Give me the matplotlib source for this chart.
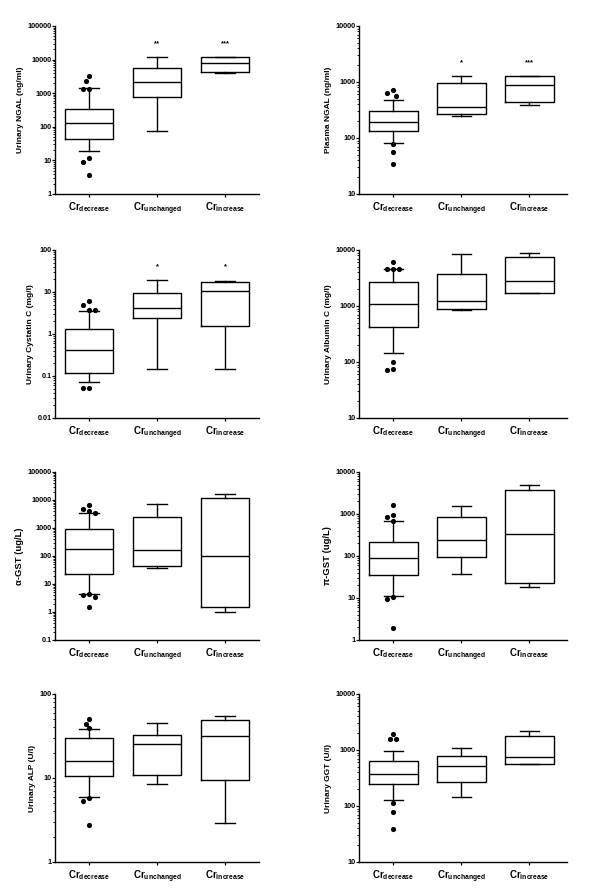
import matplotlib
matplotlib.use('Agg')
import matplotlib.pyplot as plt
import numpy as np
from matplotlib.ticker import LogLocator, NullFormatter, FuncFormatter

plt.rcParams['font.family'] = ['Liberation Sans', 'DejaVu Sans']
plt.rcParams['font.weight'] = 'bold'
plt.rcParams['mathtext.fontset'] = 'custom'
plt.rcParams['mathtext.bf'] = 'Liberation Sans:bold'
plt.rcParams['mathtext.rm'] = 'Liberation Sans:bold'

# ---------------- data ----------------
categories = [r'$\mathbf{Cr}_{\mathbf{decrease}}$',
              r'$\mathbf{Cr}_{\mathbf{unchanged}}$',
              r'$\mathbf{Cr}_{\mathbf{increase}}$']

# Urinary NGAL
ungal_lo = [19.4, 76, 4100]
ungal_q1 = [44, 796, 4300]
ungal_med = [126, 2170, 7780]
ungal_q3 = [343, 5785, 11700]
ungal_hi = [1408, 11700, 12300]
ungal_out = [3270, 2320, 1376, 1350, 12, 9.1, 3.6]
ungal_sig = ['', '**', '***']

# Plasma NGAL
pngal_lo = [83, 244, 388]
pngal_q1 = [135, 265, 433]
pngal_med = [190, 362, 880]
pngal_q3 = [303, 942, 1254]
pngal_hi = [470, 1271, 1290]
pngal_out = [706, 634, 569, 77, 57, 35]
pngal_sig = ['', '*', '***']

# Urinary Cystatin C
cys_lo = [0.071, 0.143, 0.143]
cys_q1 = [0.121, 2.36, 1.58]
cys_med = [0.42, 4.14, 10.5]
cys_q3 = [1.34, 9.55, 17.1]
cys_hi = [3.57, 19.1, 18.1]
cys_out = [5.95, 4.78, 3.78, 3.7, 0.051, 0.051]
cys_sig = ['', '*', '*']

# Urinary Albumin C
alb_lo = [143, 844, 1700]
alb_q1 = [430, 891, 1722]
alb_med = [1064, 1205, 2750]
alb_q3 = [2710, 3665, 7480]
alb_hi = [4510, 8360, 8700]
alb_out = [6180, 4570, 4510, 4500, 98, 75, 72]
alb_sig = ['', '', '']

# alpha-GST
agst_lo = [4.5, 36, 1.03]
agst_q1 = [22.6, 44.8, 1.47]
agst_med = [176, 162, 99]
agst_q3 = [957, 2500, 12200]
agst_hi = [3370, 7450, 16000]
agst_out = [6860, 4940, 3970, 3370, 4.5, 4.03, 3.33, 1.55]
agst_sig = ['', '', '']

# pi-GST
pgst_lo = [11.3, 37.7, 18.2]
pgst_q1 = [35.6, 94, 23]
pgst_med = [90, 238, 343]
pgst_q3 = [217, 837, 3730]
pgst_hi = [698, 1585, 4910]
pgst_out = [1614, 950, 837, 698, 10.5, 9.4, 1.89]
pgst_sig = ['', '', '']

# Urinary ALP
alp_lo = [6.0, 8.45, 2.9]
alp_q1 = [10.5, 11.0, 9.34]
alp_med = [16.1, 25.6, 31.8]
alp_q3 = [30.2, 32.1, 49.3]
alp_hi = [38.2, 45, 55]
alp_out = [51, 44.5, 39.2, 5.8, 5.37, 2.72]
alp_sig = ['', '', '']

# Urinary GGT
ggt_lo = [130, 144, 551]
ggt_q1 = [245, 273, 574]
ggt_med = [375, 521, 735]
ggt_q3 = [641, 776, 1795]
ggt_hi = [968, 1064, 2146]
ggt_out = [1950, 1585, 1540, 111, 79, 38.4]
ggt_sig = ['', '', '']

panels = [
    ('Urinary NGAL (ng/ml)', (1, 1e5), ungal_lo, ungal_q1, ungal_med, ungal_q3, ungal_hi, ungal_out, ungal_sig),
    ('Plasma NGAL (ng/ml)', (10, 1e4), pngal_lo, pngal_q1, pngal_med, pngal_q3, pngal_hi, pngal_out, pngal_sig),
    ('Urinary Cystatin C (mg/l)', (0.01, 100), cys_lo, cys_q1, cys_med, cys_q3, cys_hi, cys_out, cys_sig),
    ('Urinary Albumin C (mg/l)', (10, 1e4), alb_lo, alb_q1, alb_med, alb_q3, alb_hi, alb_out, alb_sig),
    ('\u03b1-GST (ug/L)', (0.1, 1e5), agst_lo, agst_q1, agst_med, agst_q3, agst_hi, agst_out, agst_sig),
    ('\u03c0-GST (ug/L)', (1, 1e4), pgst_lo, pgst_q1, pgst_med, pgst_q3, pgst_hi, pgst_out, pgst_sig),
    ('Urinary ALP (U/l)', (1, 100), alp_lo, alp_q1, alp_med, alp_q3, alp_hi, alp_out, alp_sig),
    ('Urinary GGT (U/l)', (10, 1e4), ggt_lo, ggt_q1, ggt_med, ggt_q3, ggt_hi, ggt_out, ggt_sig),
]

# ---------------- layout ----------------
W, H = 600, 893
fig = plt.figure(figsize=(W / 100, H / 100), dpi=100)
col_left = [55, 359]
col_width = [204, 208]
col_xmax = [3.5, 3.55]
row_bottom = [194, 418, 640, 862]
ax_h = 168

positions = [1, 2, 3]


def swarm_offsets(ax, x0, values, d_px):
    """Simple beeswarm: returns x positions (data) so dots don't overlap."""
    trans = ax.transData
    pts = trans.transform(np.column_stack([np.full(len(values), x0), values]))
    px_per_unit = trans.transform((x0 + 1, values[0]))[0] - pts[0, 0]
    placed = []
    xs = []
    cands = [0, -0.5, 0.5, -1, 1, -1.5, 1.5, -2, 2]
    for (px, py) in pts:
        for c in cands:
            cx = px + c * d_px
            if all((cx - qx) ** 2 + (py - qy) ** 2 >= (0.95 * d_px) ** 2 for qx, qy in placed):
                break
        placed.append((cx, py))
        xs.append(x0 + (cx - px) / px_per_unit)
    return xs


for i, (ylabel, ylim, lo, q1, med, q3, hi, out, sig) in enumerate(panels):
    r, c = divmod(i, 2)
    rect = [col_left[c] / W, 1 - row_bottom[r] / H, col_width[c] / W, ax_h / H]
    ax = fig.add_axes(rect)
    ax.set_yscale('log')
    ax.set_ylim(*ylim)
    ax.set_xlim(0.5, col_xmax[c])

    stats = [dict(whislo=lo[k], q1=q1[k], med=med[k], q3=q3[k], whishi=hi[k], fliers=[])
             for k in range(3)]
    lp = dict(color='black', linewidth=1.0)
    ax.bxp(stats, positions=positions, widths=0.72, capwidths=0.28, showfliers=False,
           boxprops=lp, whiskerprops=lp, capprops=lp, medianprops=lp)

    # outliers (only decrease group)
    xs = swarm_offsets(ax, positions[0], out, 5.6)
    ax.scatter(xs, out, s=14, color='black', zorder=5, linewidths=0)

    # significance
    top = max(hi)
    for k, s in enumerate(sig):
        if s:
            ax.annotate(s, xy=(positions[k], top), xytext=(0, 7), textcoords='offset points',
                        ha='center', va='bottom', fontsize=5.5, fontweight='bold')

    for sp in ['top', 'right']:
        ax.spines[sp].set_visible(False)
    for sp in ['left', 'bottom']:
        ax.spines[sp].set_linewidth(1.0)

    ax.yaxis.set_major_locator(LogLocator(base=10, numticks=12))
    ax.yaxis.set_minor_locator(LogLocator(base=10, subs=np.arange(2, 10), numticks=12))
    ax.yaxis.set_major_formatter(FuncFormatter(lambda v, _: f'{v:g}'))
    ax.yaxis.set_minor_formatter(NullFormatter())
    ax.tick_params(axis='y', which='major', length=2.3, width=0.9, labelsize=5.2, pad=0.3)
    ax.tick_params(axis='y', which='minor', length=1.5, width=0.6)
    ax.set_xticks(positions)
    ax.set_xticklabels(categories, fontsize=7)
    ax.tick_params(axis='x', length=2.5, width=0.9, pad=2)

    lsize = 6.8 if 'GST' in ylabel else 6
    ax.set_ylabel(ylabel, fontsize=lsize, fontweight='bold', labelpad=2)

fig.savefig('out.png', dpi=100, facecolor='white')
